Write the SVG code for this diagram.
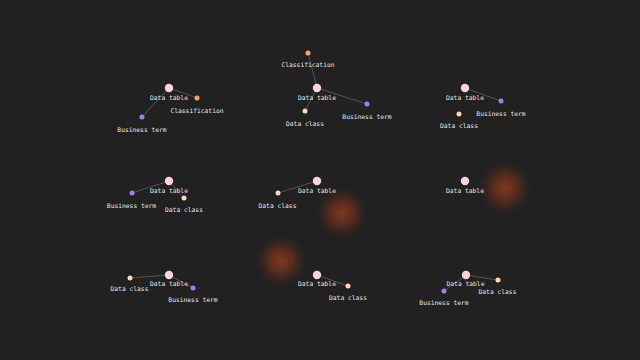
<svg xmlns="http://www.w3.org/2000/svg" width="640" height="360" viewBox="0 0 640 360">
<defs>
<radialGradient id="glow">
<stop offset="0" stop-color="#853820" stop-opacity="0.95"/>
<stop offset="0.45" stop-color="#76331d" stop-opacity="0.65"/>
<stop offset="1" stop-color="#4a2418" stop-opacity="0"/>
</radialGradient>
<style>
text{font-family:"DejaVu Sans Mono","Liberation Mono",monospace;font-size:6.3px;fill:#e6e6e6;text-anchor:middle}
.e{stroke:#606060;stroke-width:0.8;fill:none}
.dt{fill:#ffd3de}
.cl{fill:#f4a66c}
.bt{fill:#a67cf2}
.dc{fill:#ffd9b4}
</style>
</defs>
<rect width="640" height="360" fill="#212121"/>
<circle cx="342" cy="213" r="26" fill="url(#glow)"/>
<circle cx="505" cy="188" r="27" fill="url(#glow)"/>
<circle cx="281" cy="261" r="26" fill="url(#glow)"/>
<g id="connectors">
<line class="e" x1="169" y1="88" x2="197" y2="98"/>
<line class="e" x1="169" y1="88" x2="142" y2="117"/>
<line class="e" x1="308" y1="53" x2="317" y2="88"/>
<line class="e" x1="317" y1="88" x2="367" y2="104"/>
<line class="e" x1="317" y1="88" x2="305" y2="111"/>
<line class="e" x1="465" y1="88" x2="501" y2="101"/>
<line class="e" x1="169" y1="181" x2="132" y2="193"/>
<line class="e" x1="169" y1="181" x2="184" y2="198"/>
<line class="e" x1="317" y1="181" x2="278" y2="193"/>
<line class="e" x1="169" y1="275" x2="130" y2="278"/>
<line class="e" x1="169" y1="275" x2="193" y2="288"/>
<line class="e" x1="317" y1="275" x2="348" y2="286"/>
<line class="e" x1="466" y1="275" x2="498" y2="280"/>
<line class="e" x1="466" y1="275" x2="444" y2="291"/>
</g>
<g id="p1-datatable"><circle class="dt" cx="169" cy="88" r="4.2"/><text x="169" y="100">Data table</text></g>
<g id="p1-classification"><circle class="cl" cx="197" cy="98" r="2.5"/><text x="197" y="112.5">Classification</text></g>
<g id="p1-businessterm"><circle class="bt" cx="142" cy="117" r="2.5"/><text x="142" y="131.5">Business term</text></g>

<g id="p2-classification"><circle class="cl" cx="308" cy="53" r="2.5"/><text x="308" y="67">Classification</text></g>
<g id="p2-datatable"><circle class="dt" cx="317" cy="88" r="4.2"/><text x="317" y="100">Data table</text></g>
<g id="p2-businessterm"><circle class="bt" cx="367" cy="104" r="2.5"/><text x="367" y="118.5">Business term</text></g>
<g id="p2-dataclass"><circle class="dc" cx="305" cy="111" r="2.5"/><text x="305" y="125.5">Data class</text></g>

<g id="p3-datatable"><circle class="dt" cx="465" cy="88" r="4.2"/><text x="465" y="100">Data table</text></g>
<g id="p3-businessterm"><circle class="bt" cx="501" cy="101" r="2.5"/><text x="501" y="115.5">Business term</text></g>
<g id="p3-dataclass"><circle class="dc" cx="459" cy="114" r="2.5"/><text x="459" y="128">Data class</text></g>

<g id="p4-datatable"><circle class="dt" cx="169" cy="181" r="4.2"/><text x="169" y="192.5">Data table</text></g>
<g id="p4-businessterm"><circle class="bt" cx="132" cy="193" r="2.5"/><text x="131.5" y="207.5">Business term</text></g>
<g id="p4-dataclass"><circle class="dc" cx="184" cy="198" r="2.5"/><text x="184" y="211.5">Data class</text></g>

<g id="p5-datatable"><circle class="dt" cx="317" cy="181" r="4.2"/><text x="317" y="192.5">Data table</text></g>
<g id="p5-dataclass"><circle class="dc" cx="278" cy="193" r="2.5"/><text x="277.5" y="207.5">Data class</text></g>

<g id="p6-datatable"><circle class="dt" cx="465" cy="181" r="4.2"/><text x="465" y="192.5">Data table</text></g>

<g id="p7-datatable"><circle class="dt" cx="169" cy="275" r="4.2"/><text x="169" y="286">Data table</text></g>
<g id="p7-dataclass"><circle class="dc" cx="130" cy="278" r="2.5"/><text x="129.5" y="290.5">Data class</text></g>
<g id="p7-businessterm"><circle class="bt" cx="193" cy="288" r="2.5"/><text x="193" y="302">Business term</text></g>

<g id="p8-datatable"><circle class="dt" cx="317" cy="275" r="4.2"/><text x="317" y="286">Data table</text></g>
<g id="p8-dataclass"><circle class="dc" cx="348" cy="286" r="2.5"/><text x="348" y="299.5">Data class</text></g>

<g id="p9-datatable"><circle class="dt" cx="466" cy="275" r="4.2"/><text x="465.5" y="286">Data table</text></g>
<g id="p9-dataclass"><circle class="dc" cx="498" cy="280" r="2.5"/><text x="497.5" y="294">Data class</text></g>
<g id="p9-businessterm"><circle class="bt" cx="444" cy="291" r="2.5"/><text x="444" y="305">Business term</text></g>
</svg>
